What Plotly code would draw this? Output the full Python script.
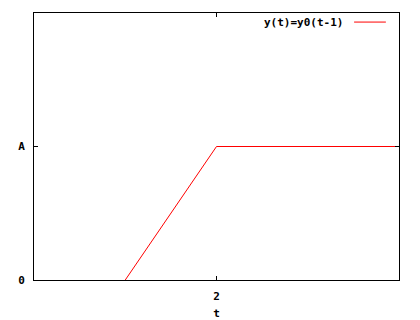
import plotly.graph_objects as go

t_vals = [1, 2, 4]
y_vals = [0, 1, 1]
x_tick_vals = [2]
x_tick_text = ["2"]
y_tick_vals = [0, 1]
y_tick_text = ["0", "A"]
legend_label = "y(t)=y0(t-1)"
x_title = "t"

FONT = dict(family="DejaVu Sans Mono", size=11, color="black")

fig = go.Figure()
fig.add_trace(go.Scatter(x=t_vals, y=y_vals, mode="lines",
                         line=dict(color="red", width=1), showlegend=False,
                         cliponaxis=True))

fig.add_annotation(xref="paper", yref="paper", x=0.852, y=0.966,
                   xanchor="right", yanchor="middle", showarrow=False,
                   text="<b>" + legend_label + "</b>", font=FONT)
fig.add_shape(type="line", xref="paper", yref="paper",
              x0=0.877, x1=0.964, y0=0.966, y1=0.966,
              line=dict(color="red", width=1))

fig.update_layout(
    width=420, height=320,
    margin=dict(l=34, r=21, t=13, b=40),
    paper_bgcolor="white", plot_bgcolor="white",
    font=FONT,
    xaxis=dict(range=[0, 4], tickvals=x_tick_vals, ticktext=["<b>%s</b>" % s for s in x_tick_text],
               showgrid=False, zeroline=False, showline=True, linecolor="black",
               linewidth=1, mirror="ticks", ticks="inside", ticklen=4,
               tickcolor="black", tickwidth=1, ticklabelstandoff=6,
               automargin=False,
               title=dict(text="<b>" + x_title + "</b>", font=FONT, standoff=8)),
    yaxis=dict(range=[0, 2], tickvals=y_tick_vals, ticktext=["<b>%s</b>" % s for s in y_tick_text],
               showgrid=False, zeroline=False, showline=True, linecolor="black",
               linewidth=1, mirror="ticks", ticks="inside", ticklen=4,
               tickcolor="black", tickwidth=1, ticklabelstandoff=6,
               automargin=False),
)

fig.write_html("out.html")
